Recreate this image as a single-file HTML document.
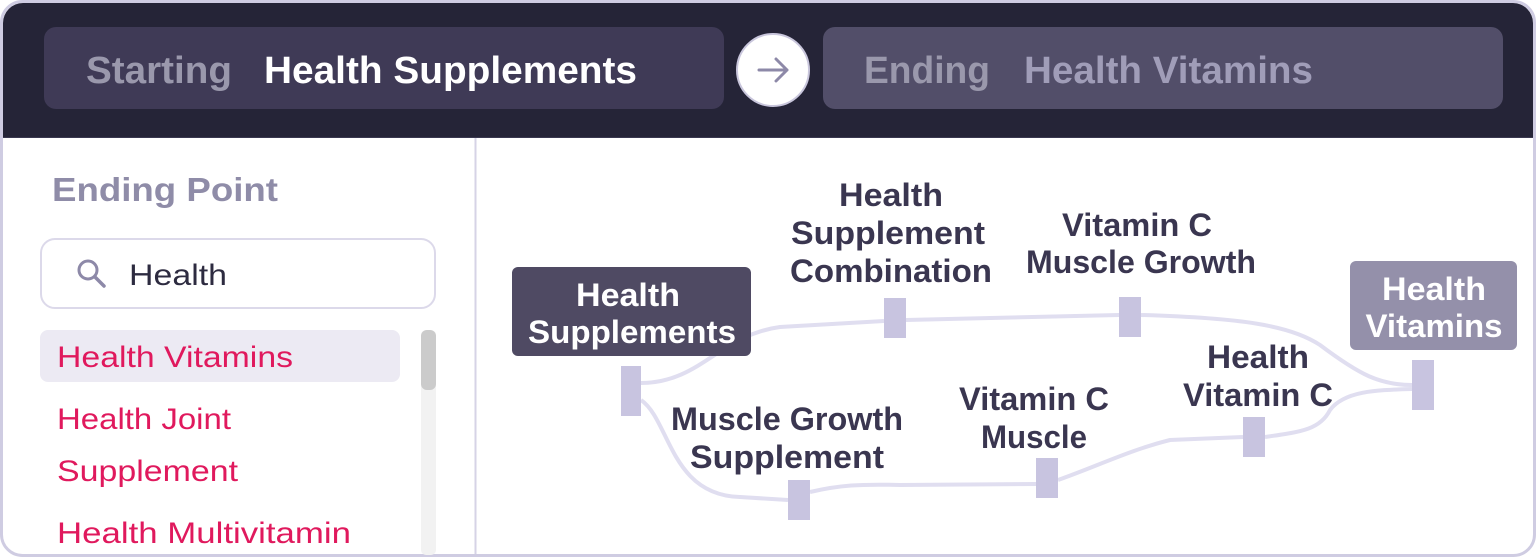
<!DOCTYPE html>
<html><head><meta charset="utf-8"><style>
html,body{margin:0;padding:0;background:#fff;width:1536px;height:558px;overflow:hidden}
svg{display:block}
text{font-family:"Liberation Sans",sans-serif}
</style></head><body>
<svg width="1536" height="558" viewBox="0 0 1536 558" xmlns="http://www.w3.org/2000/svg">
<defs><clipPath id="c"><rect x="3" y="3" width="1530" height="551" rx="20"/></clipPath></defs>
<rect x="1.5" y="1.5" width="1533" height="554" rx="21" fill="#fff" stroke="#cfcce2" stroke-width="3"/>
<g clip-path="url(#c)">
<rect x="0" y="0" width="1536" height="137" fill="#252437"/>
<line x1="0" y1="137.5" x2="1536" y2="137.5" stroke="#3a3850" stroke-width="1"/>
</g>
<rect x="44" y="27" width="680" height="82" rx="12" fill="#3f3a56"/>
<rect x="823" y="27" width="680" height="82" rx="12" fill="#524e69"/>
<circle cx="773" cy="70" r="36" fill="#fff" stroke="#c9c6dc" stroke-width="2"/>
<path d="M759 70 H787 M776 59 L787 70 L776 81" fill="none" stroke="#8d89a8" stroke-width="3" stroke-linecap="round" stroke-linejoin="round"/>
<text x="86" y="83" font-size="38" font-weight="bold" fill="#9a98ac" textLength="146" lengthAdjust="spacingAndGlyphs">Starting</text>
<text x="264" y="83" font-size="38" font-weight="bold" fill="#fff" textLength="373" lengthAdjust="spacingAndGlyphs">Health Supplements</text>
<text x="864" y="83" font-size="38" font-weight="bold" fill="#9a98ac" textLength="126" lengthAdjust="spacingAndGlyphs">Ending</text>
<text x="1024" y="83" font-size="38" font-weight="bold" fill="#a09db8" textLength="289" lengthAdjust="spacingAndGlyphs">Health Vitamins</text>

<line x1="475.5" y1="138" x2="475.5" y2="554" stroke="#d6d3e6" stroke-width="2"/>
<text x="52" y="201" font-size="33" font-weight="bold" fill="#8f8ca8" textLength="226" lengthAdjust="spacingAndGlyphs">Ending Point</text>
<rect x="41" y="239" width="394" height="69" rx="14" fill="#fff" stroke="#dcd9ea" stroke-width="2"/>
<circle cx="88" cy="270" r="9" fill="none" stroke="#8d89a8" stroke-width="3"/>
<line x1="95" y1="277" x2="104" y2="286" stroke="#8d89a8" stroke-width="3.5" stroke-linecap="round"/>
<text x="129" y="285" font-size="30" fill="#2d2b40" textLength="98" lengthAdjust="spacingAndGlyphs">Health</text>
<rect x="40" y="330" width="360" height="52" rx="8" fill="#eceaf3"/>
<rect x="421" y="330" width="15" height="225" rx="5" fill="#f2f2f2"/>
<rect x="421" y="330" width="15" height="60" rx="6" fill="#cbcbcb"/>
<g font-size="30" fill="#e0195d">
<text x="57" y="367" textLength="236" lengthAdjust="spacingAndGlyphs">Health Vitamins</text>
<text x="57" y="429" textLength="174" lengthAdjust="spacingAndGlyphs">Health Joint</text>
<text x="57" y="481" textLength="181" lengthAdjust="spacingAndGlyphs">Supplement</text>
<text x="57" y="543" textLength="294" lengthAdjust="spacingAndGlyphs">Health Multivitamin</text>
</g>

<g fill="none" stroke="#e0def0" stroke-width="4">
<path d="M641 383 C700 383 720 335 780 327 L884 321"/>
<path d="M906 320 L1119 315"/>
<path d="M1141 315 C1240 318 1290 325 1320 345 C1360 375 1380 385 1412 385"/>
<path d="M641 400 C670 420 670 495 740 497 L788 500"/>
<path d="M810 492 C840 485 860 484 900 485 L1036 484"/>
<path d="M1058 480 C1100 465 1130 450 1170 440 L1243 437"/>
<path d="M1265 437 C1300 432 1320 430 1330 410 C1345 390 1380 390 1412 389"/>
</g>
<g fill="#c8c4e0">
<rect x="621" y="366" width="20" height="50"/>
<rect x="884" y="298" width="22" height="40"/>
<rect x="1119" y="297" width="22" height="40"/>
<rect x="1412" y="360" width="22" height="50"/>
<rect x="788" y="480" width="22" height="40"/>
<rect x="1036" y="458" width="22" height="40"/>
<rect x="1243" y="417" width="22" height="40"/>
</g>
<rect x="512" y="267" width="239" height="89" rx="6" fill="#4f4a63"/>
<rect x="1350" y="261" width="167" height="89" rx="6" fill="#9490aa"/>
<g font-size="32" font-weight="bold" fill="#fff" text-anchor="middle">
<text x="628" y="306" textLength="104" lengthAdjust="spacingAndGlyphs">Health</text>
<text x="632" y="343" textLength="208" lengthAdjust="spacingAndGlyphs">Supplements</text>
<text x="1434" y="300" textLength="104" lengthAdjust="spacingAndGlyphs">Health</text>
<text x="1434" y="337" textLength="137" lengthAdjust="spacingAndGlyphs">Vitamins</text>
</g>
<g font-size="32" font-weight="bold" fill="#3a3650" text-anchor="middle">
<text x="891" y="206" textLength="104" lengthAdjust="spacingAndGlyphs">Health</text>
<text x="888" y="244" textLength="194" lengthAdjust="spacingAndGlyphs">Supplement</text>
<text x="891" y="282" textLength="202" lengthAdjust="spacingAndGlyphs">Combination</text>
<text x="1137" y="236" textLength="150" lengthAdjust="spacingAndGlyphs">Vitamin C</text>
<text x="1141" y="273" textLength="230" lengthAdjust="spacingAndGlyphs">Muscle Growth</text>
<text x="787" y="430" textLength="232" lengthAdjust="spacingAndGlyphs">Muscle Growth</text>
<text x="787" y="468" textLength="194" lengthAdjust="spacingAndGlyphs">Supplement</text>
<text x="1034" y="410" textLength="150" lengthAdjust="spacingAndGlyphs">Vitamin C</text>
<text x="1034" y="448" textLength="106" lengthAdjust="spacingAndGlyphs">Muscle</text>
<text x="1258" y="368" textLength="102" lengthAdjust="spacingAndGlyphs">Health</text>
<text x="1258" y="406" textLength="150" lengthAdjust="spacingAndGlyphs">Vitamin C</text>
</g>
</svg>
</body></html>
